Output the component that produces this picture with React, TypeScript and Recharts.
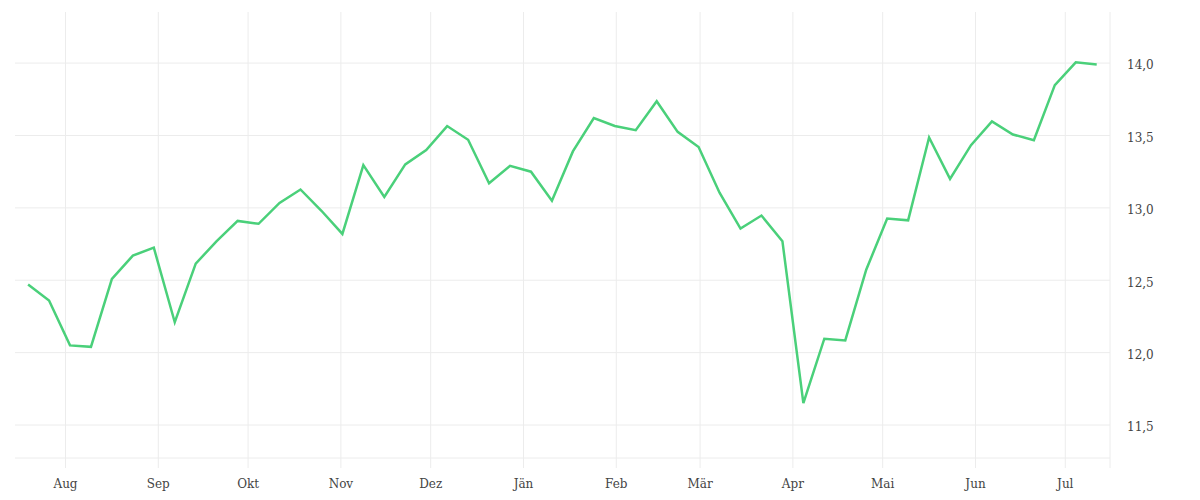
import { LineChart, Line, XAxis, YAxis, ReferenceLine } from 'recharts'

const DAY = 86400000

// weekly observations
const dates = [
  '2022-07-19', '2022-07-26', '2022-08-02', '2022-08-09', '2022-08-16', '2022-08-23',
  '2022-08-30', '2022-09-06', '2022-09-13', '2022-09-20', '2022-09-27', '2022-10-04',
  '2022-10-11', '2022-10-18', '2022-10-25', '2022-11-01', '2022-11-08', '2022-11-15',
  '2022-11-22', '2022-11-29', '2022-12-06', '2022-12-13', '2022-12-20', '2022-12-27',
  '2023-01-03', '2023-01-10', '2023-01-17', '2023-01-24', '2023-01-31', '2023-02-07',
  '2023-02-14', '2023-02-21', '2023-02-28', '2023-03-07', '2023-03-14', '2023-03-21',
  '2023-03-28', '2023-04-04', '2023-04-11', '2023-04-18', '2023-04-25', '2023-05-02',
  '2023-05-09', '2023-05-16', '2023-05-23', '2023-05-30', '2023-06-06', '2023-06-13',
  '2023-06-20', '2023-06-27', '2023-07-04', '2023-07-11',
]

const values = [
  12.47, 12.36, 12.05, 12.04, 12.51, 12.67, 12.725, 12.21, 12.615, 12.77,
  12.91, 12.89, 13.034, 13.127, 12.98, 12.82, 13.295, 13.075, 13.3, 13.4,
  13.565, 13.47, 13.17, 13.29, 13.25, 13.05, 13.39, 13.62, 13.566, 13.537,
  13.737, 13.525, 13.42, 13.105, 12.857, 12.947, 12.77, 11.651, 12.096, 12.084,
  12.573, 12.926, 12.914, 13.486, 13.2, 13.433, 13.597, 13.507, 13.467, 13.848,
  14.005, 13.991,
]

const monthTicks = [
  '2022-08-01', '2022-09-01', '2022-10-01', '2022-11-01', '2022-12-01', '2023-01-01',
  '2023-02-01', '2023-03-01', '2023-04-01', '2023-05-01', '2023-06-01', '2023-07-01',
]
const monthLabels = ['Aug', 'Sep', 'Okt', 'Nov', 'Dez', 'Jän', 'Feb', 'Mär', 'Apr', 'Mai', 'Jun', 'Jul']

const yTicks = [11.5, 12, 12.5, 13, 13.5, 14]
const yDomain = [11.203, 14.353]
const yBaseline = 11.272

const toTs = (d: string) => Date.parse(d + 'T00:00:00Z')

const data = dates.map((d, i) => ({ t: toTs(d) + DAY / 2, v: values[i] }))
const xTicks = monthTicks.map(toTs)
const xDomain = [toTs('2022-07-15') + 3 * 3600000, toTs('2023-07-15') + 22.5 * 3600000]

const GRID = '#ececec'
const tickStyle = { fontSize: 12, fill: '#444', fontFamily: '"DejaVu Serif", serif' }

function monthName(ts: number) {
  const i = xTicks.indexOf(ts)
  return i >= 0 ? monthLabels[i] : ''
}

export default function App() {
  return (
    <div style={{ width: 1200, height: 500, background: '#fff' }}>
      <style>{'body{margin:0}'}</style>
      <LineChart width={1200} height={500} data={data} margin={{ top: 12, right: 0, left: 15, bottom: 0 }}>
        <XAxis
          dataKey="t"
          type="number"
          scale="time"
          domain={xDomain}
          ticks={xTicks}
          tickFormatter={monthName}
          tick={tickStyle}
          tickLine={false}
          axisLine={false}
          tickMargin={5}
          height={32}
          allowDataOverflow
        />
        <YAxis
          orientation="right"
          domain={yDomain}
          ticks={yTicks}
          tickFormatter={(v: number) => v.toFixed(1).replace('.', ',')}
          tick={{ ...tickStyle, dy: 2 }}
          tickLine={false}
          axisLine={false}
          tickMargin={11}
          width={90}
          allowDataOverflow
        />
        {/* grid: value ticks + baseline, month starts + right edge */}
        {[...yTicks, yBaseline].map((v) => (
          <ReferenceLine key={'h' + v} y={v} stroke={GRID} />
        ))}
        {[...xTicks, xDomain[1]].map((t) => (
          <ReferenceLine key={'v' + t} x={t} stroke={GRID} />
        ))}
        <Line
          type="linear"
          dataKey="v"
          stroke="#4ad07a"
          strokeWidth={2.5}
          dot={false}
          isAnimationActive={false}
        />
      </LineChart>
    </div>
  )
}
